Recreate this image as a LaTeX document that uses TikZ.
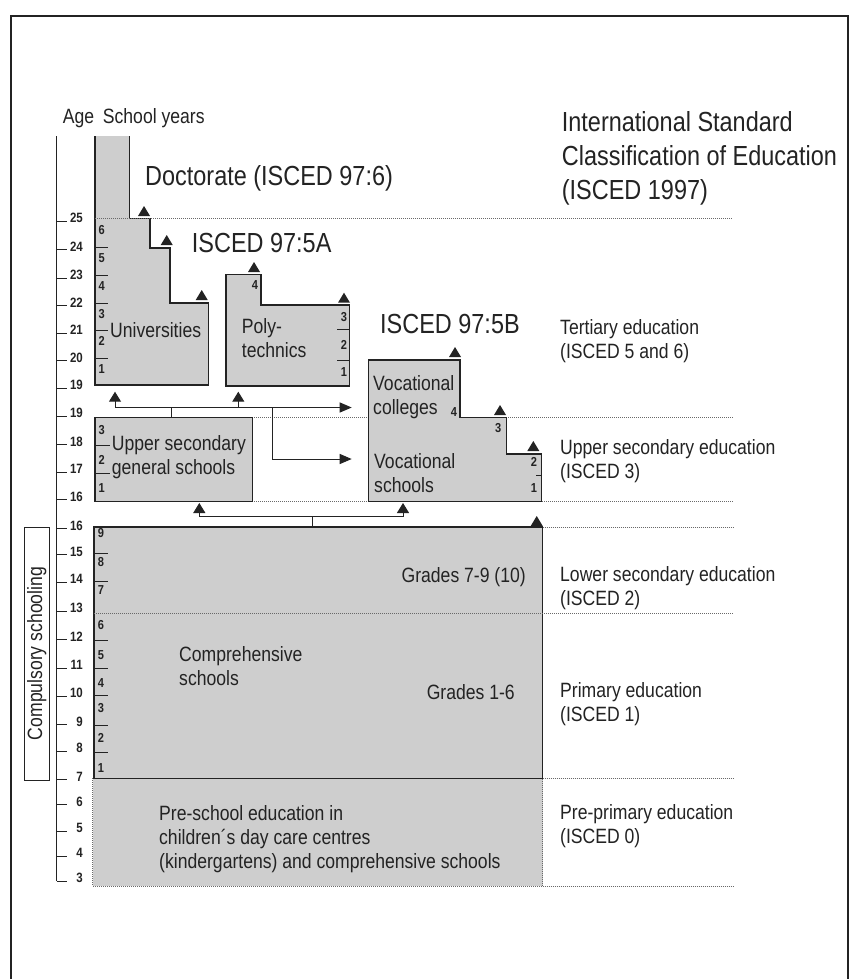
\documentclass[tikz,border=0pt]{standalone}
\usepackage{fontspec}
\setmainfont{Liberation Sans}[FakeStretch=0.85]
\usetikzlibrary{arrows.meta}
\definecolor{boxgray}{RGB}{206,206,206}
\definecolor{ink}{RGB}{35,35,35}
\definecolor{dotgray}{RGB}{105,105,105}
\newcommand\uptri[2]{\fill[ink] (#1-6,#2) -- (#1+6,#2) -- (#1,#2-10) -- cycle;}
\tikzset{
  boxfill/.style={fill=boxgray},
  boxline/.style={draw=ink, line width=1.4pt},
  level/.style={draw=dotgray, line width=0.7pt, dash pattern=on 1pt off 1pt},
  lbl/.style={font=\fontsize{20.7}{24}\selectfont, text=ink, inner sep=0pt, align=left, anchor=west},
  titlelbl/.style={font=\fontsize{27.6}{34}\selectfont, text=ink, inner sep=0pt, align=left, anchor=west},
  agenum/.style={font=\bfseries\fontsize{13.5}{14}\selectfont, text=ink, inner sep=0pt, anchor=east},
  yrnum/.style={font=\bfseries\fontsize{13}{14}\selectfont, text=ink, inner sep=0pt},
  conn/.style={draw=ink, line width=1pt},
  tick/.style={draw=ink, line width=0.8pt},
  uptip/.style={-{Triangle[width=12pt,length=10pt]}},
  righttip/.style={-{Triangle[width=10pt,length=12pt]}},
}
\begin{document}
\begin{tikzpicture}[x=1pt,y=-1pt]
\useasboundingbox (0,0) rectangle (857,979);
\fill[white] (0,0) rectangle (857,979);
% outer frame
\draw[ink, line width=1.3pt] (11,979) -- (11,16) -- (848,16) -- (848,979);

% level lines (behind boxes)
\draw[level] (252,417.7) -- (733,417.7);
\draw[level] (252,501.7) -- (733,501.7);
\draw[level] (542.7,527) -- (733,527);
\draw[level] (542.7,778.3) -- (733,778.3);
\draw[level] (542.7,886) -- (733,886);

% Universities + Doctorate
\fill[boxfill] (95,136) -- (95,385) -- (208.3,385) -- (208.3,303) -- (170,303) -- (170,248) -- (150,248) -- (150,218.3) -- (129.3,218.3) -- (129.3,136) -- cycle;
\draw[boxline] (129.3,136) -- (129.3,218.3) -- (150,218.3) -- (150,248) -- (170,248) -- (170,303) -- (208.3,303) -- (208.3,385) -- (95,385) -- (95,136);
% Polytechnics
\fill[boxfill] (226,274.3) -- (261,274.3) -- (261,305) -- (349.3,305) -- (349.3,386) -- (226,386) -- cycle;
\draw[boxline] (226,274.3) -- (261,274.3) -- (261,305) -- (349.3,305) -- (349.3,386) -- (226,386) -- cycle;
% Vocational
\fill[boxfill] (368.3,360) -- (460,360) -- (460,417.7) -- (506.7,417.7) -- (506.7,454) -- (541.7,454) -- (541.7,501.7) -- (368.3,501.7) -- cycle;
\draw[boxline] (368.3,360) -- (460,360) -- (460,417.7) -- (506.7,417.7) -- (506.7,454) -- (541.7,454) -- (541.7,501.7) -- (368.3,501.7) -- cycle;
% Upper secondary
\fill[boxfill] (95,417.7) rectangle (252.3,501.7);
\draw[boxline] (95,417.7) rectangle (252.3,501.7);
% Pre-school
\fill[boxfill] (92.5,778.3) rectangle (542.7,886);
\draw[level] (92.5,778.3) -- (92.5,886) -- (542.7,886) -- (542.7,778.3);
% Comprehensive
\fill[boxfill] (94,527) rectangle (542.7,778.3);
\draw[boxline] (94,527) rectangle (542.7,778.3);

% level lines over boxes
\draw[level] (95,218.3) -- (733,218.3);
\draw[level] (94,613.3) -- (733,613.3);

% age axis
\draw[conn] (56.7,136) -- (56.7,881);
\foreach \a/\y in {25/218.3,24/246.7,23/275,22/302.7,21/330,20/357.7,19/385,19/413.3,18/441.7,17/469.3,16/496.7,16/525.7,15/551.7,14/579.3,13/608.3,12/636.7,11/665,10/693.3,9/721.7,8/748.3,7/776.7,6/801.7,5/828.3,4/853.3,3/878.3}{
  \draw[tick] (56.7,\y+3) -- (67,\y+3);
  \node[agenum] at (83,\y) {\a};
}
\node[lbl] (age) at (62.7,118.3) {Age};
\node[lbl] (sy) at (102.7,118.3) {School years};

% compulsory schooling
\draw[ink, line width=0.8pt] (24,527) rectangle (49.3,780);
\node[lbl, anchor=center, rotate=90] (comp) at (36.7,653.5) {Compulsory schooling};

% year ticks and numbers: universities
\foreach \y in {247,275,303,330,358}{\draw[tick] (95,\y) -- (108,\y);}
\foreach \n/\y in {6/230,5/258,4/286,3/314,2/341,1/369}{\node[yrnum] at (101.7,\y) {\n};}
% polytechnics
\foreach \y in {329.3,360.7}{\draw[tick] (337,\y) -- (349.3,\y);}
\node[yrnum] at (255,285) {4};
\foreach \n/\y in {3/317,2/345,1/372}{\node[yrnum] at (344,\y) {\n};}
% upper secondary
\foreach \y in {445.7,473.7}{\draw[tick] (95,\y) -- (110,\y);}
\foreach \n/\y in {3/430,2/460,1/488}{\node[yrnum] at (101.7,\y) {\n};}
% vocational
\draw[tick] (536,475) -- (541.7,475);
\node[yrnum] at (454,411.7) {4};
\node[yrnum] at (498.3,428.3) {3};
\node[yrnum] at (534,461.7) {2};
\node[yrnum] at (534,488.3) {1};
% comprehensive
\foreach \y in {553,581.7,640,668,695,725,752.7}{\draw[tick] (94,\y) -- (108,\y);}
\foreach \n/\y in {9/533,8/562,7/590,6/625,5/655,4/683,3/708,2/738,1/768}{\node[yrnum] at (101,\y) {\n};}

% standalone triangles
\uptri{144}{216}
\uptri{166.7}{245}
\uptri{201.7}{300}
\uptri{254}{272}
\uptri{344}{302.7}
\uptri{455}{357}
\uptri{500}{415}
\uptri{533.3}{451}
\uptri{536.7}{526}

% connectors
\coordinate (usTop) at (171,417.7);
\coordinate (usJ) at (171,407.5);
\coordinate (uniIn) at (115,391.7);
\coordinate (polIn) at (238.3,391.7);
\coordinate (vcIn) at (351.7,407.5);
\coordinate (br) at (272.5,407.5);
\coordinate (vsIn) at (351.7,459);
\draw[conn] (usTop) -- (usJ);
\draw[conn, uptip] (usJ) -| (uniIn);
\draw[conn, uptip] (usJ) -| (polIn);
\draw[conn, righttip] (usJ) -- (vcIn);
\draw[conn, righttip] (br) |- (vsIn);
\coordinate (cTop) at (312,527);
\coordinate (cJ) at (312,516);
\coordinate (usIn) at (199.3,503);
\coordinate (vocIn) at (403,503);
\draw[conn] (cTop) -- (cJ);
\draw[conn, uptip] (cJ) -| (usIn);
\draw[conn, uptip] (cJ) -| (vocIn);

% titles
\node[titlelbl] (doc) at (145,178.3) {Doctorate (ISCED 97:6)};
\node[titlelbl] (i5a) at (191.7,243.3) {ISCED 97:5A};
\node[titlelbl] (i5b) at (380,324) {ISCED 97:5B};
\node[titlelbl] (isced) at (561.7,158) {International Standard\\Classification of Education\\(ISCED 1997)};

% box labels
\node[lbl] (uni) at (110,330) {Universities};
\node[lbl] (pol) at (241.7,338.3) {Poly-\\technics};
\node[lbl] (ups) at (111.7,457) {Upper secondary\\general schools};
\node[lbl] (vcol) at (373,397) {Vocational\\colleges};
\node[lbl] (vsch) at (374,473.5) {Vocational\\schools};
\node[lbl, anchor=east] (g79) at (526,577) {Grades 7-9 (10)};
\node[lbl] (comp2) at (179,666) {Comprehensive\\schools};
\node[lbl, anchor=east] (g16) at (515,692) {Grades 1-6};
\node[lbl] (pre) at (159,838.7) {Pre-school education in\\children´s day care centres\\(kindergartens) and comprehensive schools};

% right labels
\node[lbl] (ter) at (560,340.7) {Tertiary education\\(ISCED 5 and 6)};
\node[lbl] (use) at (560,461) {Upper secondary education\\(ISCED 3)};
\node[lbl] (lse) at (560,588.5) {Lower secondary education\\(ISCED 2)};
\node[lbl] (pri) at (560,704.5) {Primary education\\(ISCED 1)};
\node[lbl] (ppr) at (560,826.5) {Pre-primary education\\(ISCED 0)};
\end{tikzpicture}
\end{document}
